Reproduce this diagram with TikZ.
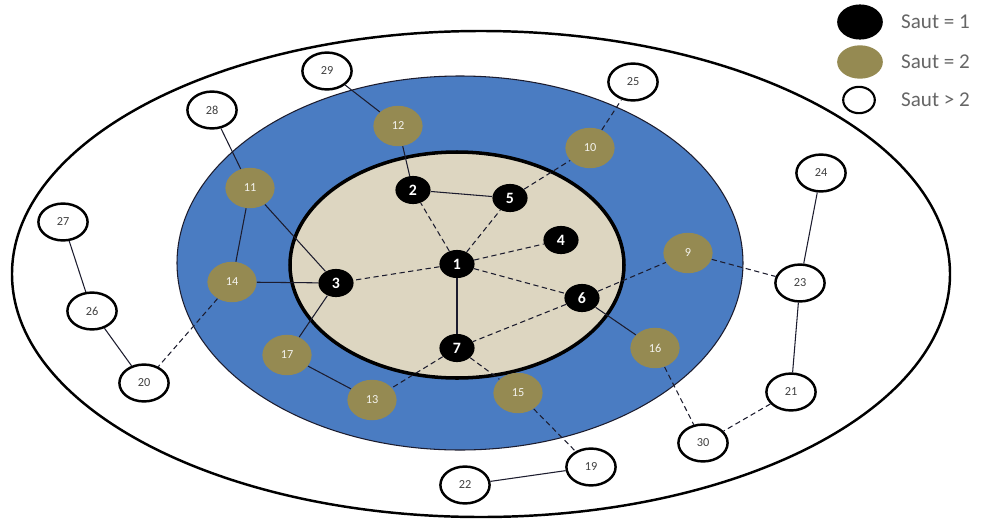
\documentclass[tikz,border=0pt]{standalone}
\usepackage{fontspec}
\setsansfont{Carlito}
\usetikzlibrary{shapes.geometric}
\definecolor{ring}{HTML}{4A7CC2}
\definecolor{core}{HTML}{DDD6C1}
\definecolor{olive}{HTML}{958A52}
\definecolor{ink}{HTML}{1C1C2E}
\definecolor{gr}{HTML}{666666}

\begin{document}
\begin{tikzpicture}[x=0.02cm,y=-0.02cm,
    hopone/.style={ellipse,fill=black,text=white,inner sep=0pt,minimum width=20pt,minimum height=16pt,font=\sffamily\bfseries\small},
    hoptwo/.style={ellipse,fill=olive,text=white!90!olive,inner sep=0pt,minimum width=28pt,minimum height=23pt,font=\sffamily\scriptsize},
    hopfar/.style={ellipse,draw=black,line width=1.4pt,fill=white,text=black!75,inner sep=0pt,minimum width=28pt,minimum height=21pt,font=\sffamily\scriptsize},
    link/.style={ink,line width=0.6pt},
    dlink/.style={ink,line width=0.6pt,densely dashed},
    legtext/.style={anchor=west,text=gr,font=\sffamily\large}]
  \useasboundingbox (0,0) rectangle (995,518);
  % zones
  \draw[black,line width=1.4pt,fill=white] (481,274) ellipse [x radius=469,y radius=243];
  \draw[ink,line width=0.6pt,fill=ring] (460,263) ellipse [x radius=283,y radius=187];
  \draw[black,line width=2pt,fill=core] (457,265) ellipse [x radius=167,y radius=113];
  % nodes, one hop
  \foreach \id/\x/\y in {1/457/264,2/413/190,5/510/198,4/561/240,6/582/298,3/336/283,7/457/348} {
    \node[hopone] (n\id) at (\x,\y) {\id};
  }
  % nodes, two hops
  \foreach \id/\x/\y in {12/398/126,10/590/148,11/250/188,9/688/253,14/232/282,17/287/355,13/372/400,15/518/393,16/655/348} {
    \node[hoptwo] (n\id) at (\x,\y) {\id};
  }
  % nodes, more hops
  \foreach \id/\x/\y in {29/327/71,28/212/110,27/63/222,26/92/311,20/144/383,25/633/82,24/821/173,23/800/283,21/791/392,30/703/443,19/591/467,22/465/485} {
    \node[hopfar] (n\id) at (\x,\y) {\id};
  }
  % links
  \foreach \a/\b in {2/5,1/7,2/12,6/16,3/11,3/14,3/17,11/14,11/28,12/29,17/13,27/26,26/20,24/23,23/21,19/22} {
    \draw[link] (n\a) -- (n\b);
  }
  \foreach \a/\b in {1/2,1/5,1/4,1/6,1/3,6/7,6/9,5/10,7/13,7/15,10/25,9/23,14/20,15/19,16/30,21/30} {
    \draw[dlink] (n\a) -- (n\b);
  }
  % legend
  \node[ellipse,fill=black,minimum width=26pt,minimum height=20pt] (kone) at (860,22) {};
  \node[ellipse,fill=olive,minimum width=26pt,minimum height=19pt] (ktwo) at (860,62) {};
  \node[ellipse,draw=black,line width=1.2pt,minimum width=18pt,minimum height=15pt] (kfar) at (859,100) {};
  \node[legtext] (lone) at (895,22) {Saut = 1};
  \node[legtext] (ltwo) at (895,62) {Saut = 2};
  \node[legtext] (lfar) at (895,100) {Saut > 2};
\end{tikzpicture}
\end{document}
